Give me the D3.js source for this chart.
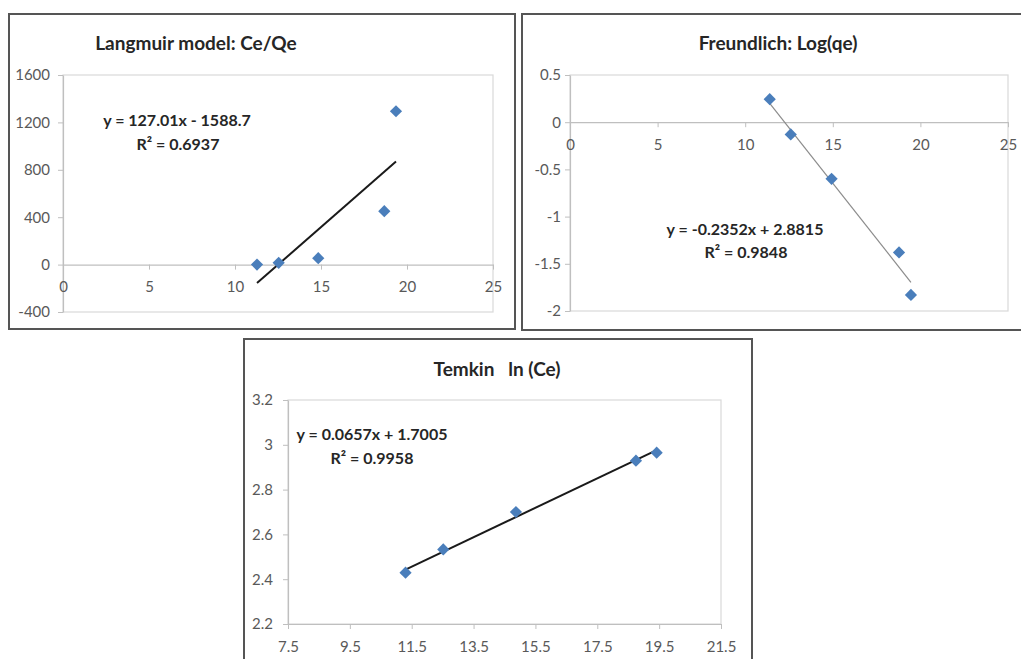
<!DOCTYPE html>
<html>
<head>
<meta charset="utf-8">
<script src="https://cdn.jsdelivr.net/npm/d3@7"></script>
<style>
  html, body { margin:0; padding:0; background:#fff; }
  svg { display:block; font-family: Lato, "Open Sans", sans-serif; }
</style>
</head>
<body>
<svg id="chart" width="1021" height="659"></svg>
<script>
// --- datos ---
const langmuirX = [11.28, 12.54, 14.84, 18.68, 19.36];
const langmuirY = [0, 15, 54, 451, 1294];
const langmuirFit = [127.01, -1588.7];
const langmuirXTicks = [0, 5, 10, 15, 20, 25];
const langmuirYTicks = [-400, 0, 400, 800, 1200, 1600];

const freundX = [11.4, 12.6, 14.93, 18.78, 19.46];
const freundY = [0.244, -0.13, -0.60, -1.38, -1.83];
const freundFit = [-0.2352, 2.8815];
const freundXTicks = [0, 5, 10, 15, 20, 25];
const freundYTicks = [-2, -1.5, -1, -0.5, 0, 0.5];

const temkinX = [11.3, 12.52, 14.87, 18.75, 19.42];
const temkinY = [2.429, 2.533, 2.70, 2.929, 2.965];
const temkinFit = [0.0657, 1.7005];
const temkinXTicks = [7.5, 9.5, 11.5, 13.5, 15.5, 17.5, 19.5, 21.5];
const temkinYTicks = [2.2, 2.4, 2.6, 2.8, 3, 3.2];

const svg = d3.select("#chart");

function drawPanel(o){
  const g = svg.append("g");

  // marco del panel
  g.append("rect")
    .attr("x", o.box[0]).attr("y", o.box[1])
    .attr("width", o.box[2]-o.box[0]).attr("height", o.box[3]-o.box[1])
    .attr("fill", "#fff").attr("stroke", "#555").attr("stroke-width", 2);

  const x = d3.scaleLinear().domain(o.xDomain).range([o.plot[0], o.plot[2]]);
  const y = d3.scaleLinear().domain(o.yDomain).range([o.plot[3], o.plot[1]]);

  // area del grafico
  g.append("rect")
    .attr("x", o.plot[0]).attr("y", o.plot[1])
    .attr("width", o.plot[2]-o.plot[0]).attr("height", o.plot[3]-o.plot[1])
    .attr("fill", "none").attr("stroke", "#d9d9d9").attr("stroke-width", 1.2);

  const yAxis = g.append("g")
    .attr("transform", `translate(${o.plot[0]},0)`)
    .call(d3.axisLeft(y).tickValues(o.yTicks).tickSize(5).tickSizeOuter(0)
      .tickPadding(o.yPad).tickFormat(d => String(d)));

  const xBase = o.xAt != null ? y(o.xAt) : o.plot[3];
  const xAxis = g.append("g")
    .attr("transform", `translate(0,${xBase})`)
    .call(d3.axisBottom(x).tickValues(o.xTicks).tickSize(5).tickSizeOuter(0)
      .tickPadding(12).tickFormat(d => String(d)));

  [yAxis, xAxis].forEach(a => {
    a.select(".domain").attr("stroke", "#bfbfbf").attr("stroke-width", 1.2);
    a.selectAll(".tick line").attr("stroke", "#bfbfbf");
    a.selectAll(".tick text").attr("fill", "#595959")
      .style("font-size", "15px").style("font-family", "Lato, sans-serif");
  });

  // linea de tendencia
  const x0 = d3.min(o.xs), x1 = d3.max(o.xs);
  g.append("line")
    .attr("x1", x(x0)).attr("y1", y(o.fit[0]*x0 + o.fit[1]))
    .attr("x2", x(x1)).attr("y2", y(o.fit[0]*x1 + o.fit[1]))
    .attr("stroke", o.fitColor).attr("stroke-width", o.fitWidth);

  // puntos (rombos)
  g.append("g").selectAll("path")
    .data(o.xs.map((v,i) => ({x:v, y:o.ys[i]})))
    .enter().append("path")
    .attr("d", d3.symbol(d3.symbolDiamond2, 95))
    .attr("transform", d => `translate(${x(d.x)},${y(d.y)})`)
    .attr("fill", "#4a7ebb");

  g.append("text")
    .attr("x", o.title[1]).attr("y", o.title[2])
    .attr("text-anchor", "middle").attr("dominant-baseline", "central")
    .attr("fill", "#262626").style("font-size", "19px").style("font-weight", "700")
    .attr("xml:space", "preserve")
    .text(o.title[0]);

  o.eq.forEach(t => {
    g.append("text")
      .attr("x", t[1]).attr("y", t[2])
      .attr("text-anchor", "middle").attr("dominant-baseline", "central")
      .attr("fill", "#262626").style("font-size", "16px").style("font-weight", "700")
      .text(t[0]);
  });
}

drawPanel({
  box:[9,14,515,329], plot:[63,75,493,312],
  xDomain:[0,25], yDomain:[-400,1600], xTicks:langmuirXTicks, yTicks:langmuirYTicks,
  xAt:0, yPad:8, xs:langmuirX, ys:langmuirY, fit:langmuirFit,
  fitColor:"#1a1a1a", fitWidth:2,
  title:["Langmuir model: Ce/Qe", 196, 42],
  eq:[["y = 127.01x - 1588.7", 177, 119], ["R² = 0.6937", 178, 143]]
});

drawPanel({
  box:[522,14,1030,330], plot:[570,75,1008,311],
  xDomain:[0,25], yDomain:[-2,0.5], xTicks:freundXTicks, yTicks:freundYTicks,
  xAt:0, yPad:4, xs:freundX, ys:freundY, fit:freundFit,
  fitColor:"#8c8c8c", fitWidth:1.2,
  title:["Freundlich: Log(qe)", 778, 42],
  eq:[["y = -0.2352x + 2.8815", 745, 228], ["R² = 0.9848", 746, 251]]
});

drawPanel({
  box:[244,339,752,670], plot:[288,400,721,624],
  xDomain:[7.5,21.5], yDomain:[2.2,3.2], xTicks:temkinXTicks, yTicks:temkinYTicks,
  xAt:null, yPad:10, xs:temkinX, ys:temkinY, fit:temkinFit,
  fitColor:"#1a1a1a", fitWidth:2,
  title:["Temkin   ln (Ce)", 497, 368],
  eq:[["y = 0.0657x + 1.7005", 372, 433], ["R² = 0.9958", 372, 457]]
});
</script>
</body>
</html>
